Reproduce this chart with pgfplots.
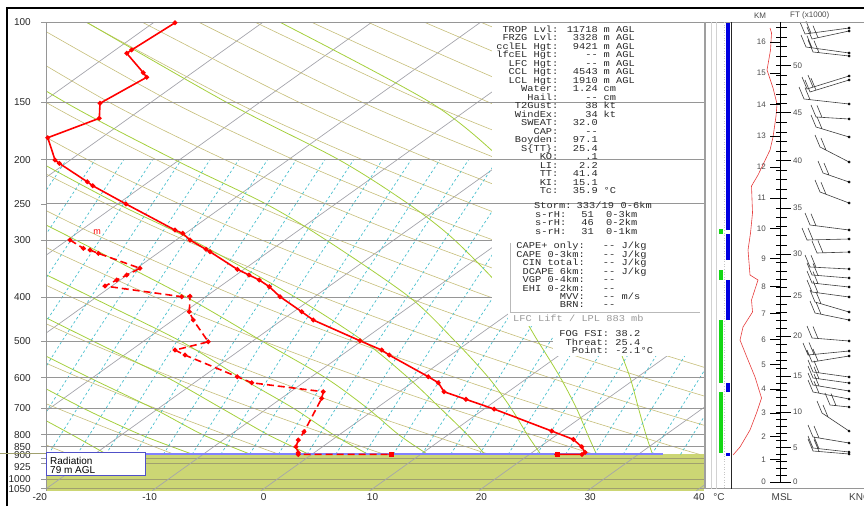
\documentclass[border=0pt]{standalone}
\usepackage{fontspec}
\setmainfont{Liberation Sans}
\setmonofont[FakeStretch=1.15]{Liberation Mono}
\usepackage{pgfplots}
\pgfplotsset{compat=1.18}
\definecolor{isoT}{RGB}{165,165,172}
\definecolor{isoP}{RGB}{150,150,150}
\definecolor{dryad}{RGB}{198,190,122}
\definecolor{moistad}{RGB}{165,208,60}
\definecolor{mixr}{RGB}{70,190,205}
\definecolor{groundc}{RGB}{204,214,116}
\definecolor{groundl}{RGB}{160,160,110}
\definecolor{txt}{RGB}{40,40,40}
\definecolor{barbc}{RGB}{60,60,60}
\definecolor{radb}{RGB}{80,80,200}
\newcommand\mt{\fontsize{9}{9}\selectfont\ttfamily}
\pgfplotsset{dry/.style={dryad, line width=0.6pt, smooth},
             moist/.style={moistad, line width=0.8pt, smooth},
             isot/.style={isoT, line width=0.7pt},
             isob/.style={isoP, line width=0.9pt}}
\begin{document}
\begin{tikzpicture}
\useasboundingbox (0,0) rectangle (864pt,506pt);
% ---------------- main skew-T axis ----------------
\begin{axis}[
  at={(46pt,15.3pt)}, anchor=south west,
  scale only axis, width=658pt, height=468.7pt,
  xmin=-20, xmax=40.46, ymode=log, ymin=100, ymax=1060, y dir=reverse,
  axis line style={draw=none},
  xtick={-20,-10,0,10,20,30,40},
  xticklabels={\makebox[0pt][r]{-20\hspace{-1pt}},\makebox[0pt][r]{-10\hspace{-2pt}},0,10,20,30,40},
  ytick={100,150,200,250,300,400,500,600,700,800,850,900,925,1000,1050},
  yticklabels={100,150,200,250,300,400,500,600,700,800,850,\raisebox{3pt}[7.2pt][0pt]{900},\raisebox{-3pt}[7.2pt][0pt]{925},1000,1050},
  yminorticks=false,
  ytick pos=left, xtick pos=bottom,
  tick align=outside, major tick length=5pt,
  major y tick style={draw=isoP, line width=0.8pt},
  major x tick style={draw=none},
  tick label style={font=\fontsize{10}{10}\selectfont, text=txt},
  /pgf/number format/assume math mode=true,
  yticklabel style={inner sep=1pt, xshift=-9pt},
  xticklabel style={yshift=5.7pt},
  unbounded coords=jump,
]
% ground
\addplot[fill=groundc, draw=none] coordinates {(-20,883) (40.46,883) (40.46,1060) (-20,1060)};
\addplot[groundl, line width=0.9pt] coordinates {(-20,900) (40.46,900) (nan,nan) (-20,925) (40.46,925) (nan,nan) (-20,1000) (40.46,1000) (nan,nan) (-20,1050) (40.46,1050)};
% isotherms
\addplot[isot] coordinates {(-70.24,1060) (-10.04,100) (nan,nan) (-60.24,1060) (-0.04,100) (nan,nan) (-50.24,1060) (9.96,100) (nan,nan) (-40.24,1060) (19.96,100) (nan,nan) (-30.24,1060) (29.96,100) (nan,nan) (-20.24,1060) (39.96,100) (nan,nan) (-10.24,1060) (49.96,100) (nan,nan) (-0.24,1060) (59.96,100) (nan,nan) (9.76,1060) (69.96,100) (nan,nan) (19.76,1060) (79.96,100) (nan,nan) (29.76,1060) (89.96,100) (nan,nan) (39.76,1060) (99.96,100)};
% dry adiabats
\addplot[dry] coordinates {(-27.47,883) (-29.10,850) (-37.03,700)};
\addplot[dry] coordinates {(-17.81,883) (-19.56,850) (-28.00,700)};
\addplot[dry] coordinates {(-8.16,883) (-10.01,850) (-18.97,700) (-25.55,600)};
\addplot[dry] coordinates {(1.49,883) (-0.47,850) (-9.94,700) (-16.90,600) (-24.54,500)};
\addplot[dry] coordinates {(11.14,883) (9.08,850) (-0.91,700) (-8.26,600) (-16.33,500) (-25.33,400)};
\addplot[dry] coordinates {(20.79,883) (18.63,850) (8.13,700) (0.38,600) (-8.13,500) (-17.64,400) (-28.52,300)};
\addplot[dry] coordinates {(30.44,883) (28.17,850) (17.16,700) (9.03,600) (0.07,500) (-9.94,400) (-21.43,300) (-27.93,250)};
\addplot[dry] coordinates {(40.09,883) (37.72,850) (26.19,700) (17.67,600) (8.28,500) (-2.24,400) (-14.34,300) (-21.20,250) (-28.82,200)};
\addplot[dry] coordinates {(49.74,883) (47.27,850) (35.22,700) (26.31,600) (16.48,500) (5.45,400) (-7.25,300) (-14.47,250) (-22.51,200) (-31.60,150)};
\addplot[dry] coordinates {(44.25,700) (34.95,600) (24.68,500) (13.15,400) (-0.16,300) (-7.74,250) (-16.19,200) (-25.79,150)};
\addplot[dry] coordinates {(43.60,600) (32.89,500) (20.85,400) (6.93,300) (-1.01,250) (-9.88,200) (-19.97,150) (-31.90,100)};
\addplot[dry] coordinates {(52.24,600) (41.09,500) (28.54,400) (14.02,300) (5.72,250) (-3.57,200) (-14.16,150) (-26.72,100)};
\addplot[dry] coordinates {(49.30,500) (36.24,400) (21.11,300) (12.45,250) (2.75,200) (-8.34,150) (-21.54,100)};
\addplot[dry] coordinates {(57.50,500) (43.94,400) (28.20,300) (19.18,250) (9.06,200) (-2.53,150) (-16.36,100)};
\addplot[dry] coordinates {(51.63,400) (35.29,300) (25.91,250) (15.38,200) (3.29,150) (-11.18,100)};
\addplot[dry] coordinates {(59.33,400) (42.38,300) (32.64,250) (21.69,200) (9.11,150) (-6.00,100)};
\addplot[dry] coordinates {(49.47,300) (39.37,250) (28.01,200) (14.93,150) (-0.82,100)};
\addplot[dry] coordinates {(46.10,250) (34.32,200) (20.74,150) (4.36,100)};
\addplot[dry] coordinates {(52.82,250) (40.63,200) (26.56,150) (9.54,100)};
\addplot[dry] coordinates {(46.95,200) (32.37,150) (14.72,100)};
\addplot[dry] coordinates {(53.26,200) (38.19,150) (19.90,100)};
\addplot[dry] coordinates {(44.00,150) (25.08,100)};
% moist adiabats
\addplot[moist] coordinates {(-14.4,883) (-17.6,800) (-22.1,700)};
\addplot[moist] coordinates {(-6.49,883) (-11.27,800) (-16.56,700) (-21.9,600)};
\addplot[moist] coordinates {(-1.17,883) (-5.57,800) (-10.16,700) (-16.0,600) (-22.7,500)};
\addplot[moist] coordinates {(4.20,883) (0.43,800) (-3.86,700) (-8.83,600) (-15.6,500) (-23.8,400)};
\addplot[moist] coordinates {(9.61,883) (6.43,800) (2.74,700) (-2.13,600) (-7.58,500) (-15.8,400) (-26.4,300)};
\addplot[moist] coordinates {(15.08,883) (12.43,800) (9.54,700) (5.67,600) (-0.08,500) (-7.09,400) (-17.25,300) (-23.8,250) (-31.1,200)};
\addplot[moist] coordinates {(20.32,883) (18.73,800) (16.24,700) (13.27,600) (9.22,500) (2.91,400) (-6.55,300) (-13.4,250) (-21.0,200) (-30.2,150)};
\addplot[moist] coordinates {(25.47,883) (24.23,800) (22.74,700) (20.67,600) (17.62,500) (13.41,400) (5.75,300) (0.20,250) (-8.2,200) (-18.2,150) (-30.3,100)};
\addplot[moist] coordinates {(30.59,883) (29.78,800) (28.74,700) (27.27,600) (25.22,500) (22.61,400) (17.55,300) (13.30,250) (6.89,200) (-3.38,150) (-16.3,100)};
\addplot[moist] coordinates {(35.73,883) (35.13,800) (34.44,700) (33.67,600) (32.42,500) (30.86,400) (28.15,300) (25.70,250) (21.89,200) (15.32,150) (1.46,100)};
% mixing ratio lines
\addplot[mixr, line width=0.7pt, dash pattern=on 2.5pt off 2.5pt] coordinates {
(-35.62,883) (-29.12,500) (-18.12,200) (nan,nan)
(-32.98,883) (-26.48,500) (-15.48,200) (nan,nan)
(-30.34,883) (-23.84,500) (-12.84,200) (nan,nan)
(-27.70,883) (-21.20,500) (-10.20,200) (nan,nan)
(-25.06,883) (-18.56,500) (-7.56,200) (nan,nan)
(-22.42,883) (-15.92,500) (-4.92,200) (nan,nan)
(-19.78,883) (-13.28,500) (-2.28,200) (nan,nan)
(-17.14,883) (-10.64,500) (0.36,200) (nan,nan)
(-14.50,883) (-8.00,500) (3.00,200) (nan,nan)
(-11.86,883) (-5.36,500) (5.64,200) (nan,nan)
(-9.22,883) (-2.72,500) (8.28,200) (nan,nan)
(-6.58,883) (-0.08,500) (10.92,200) (nan,nan)
(-3.94,883) (2.56,500) (13.56,200) (nan,nan)
(-1.30,883) (5.20,500) (16.20,200) (nan,nan)
(1.34,883) (7.84,500) (18.84,200) (nan,nan)
(3.98,883) (10.48,500) (21.48,200) (nan,nan)
(6.62,883) (13.12,500) (24.12,200) (nan,nan)
(9.26,883) (15.76,500) (26.76,200) (nan,nan)
(11.90,883) (18.40,500) (29.40,200) (nan,nan)
(14.54,883) (21.04,500) (32.04,200) (nan,nan)
(17.18,883) (23.68,500) (34.68,200) (nan,nan)
(19.82,883) (26.32,500) (37.32,200) (nan,nan)
(22.46,883) (28.96,500) (39.96,200) (nan,nan)
(25.10,883) (31.60,500) (42.60,200) (nan,nan)
(27.74,883) (34.24,500) (45.24,200) (nan,nan)
(30.38,883) (36.88,500) (47.88,200) (nan,nan)
(33.02,883) (39.52,500) (50.52,200) (nan,nan)
(35.66,883) (42.16,500) (53.16,200) (nan,nan)
(38.30,883) (44.80,500) (55.80,200)};
% white panels behind the text
\addplot[fill=white, draw=none] coordinates {(20.98,100) (40.46,100) (40.46,433.2) (20.98,433.2)};
\addplot[fill=white, draw=none] coordinates {(22.45,433.2) (40.46,433.2) (40.46,462.5) (22.45,462.5)};
\addplot[fill=white, draw=none] coordinates {(26.59,462.5) (40.46,462.5) (40.46,537.9) (26.59,537.9)};
% isobars
\addplot[isob] coordinates {(-20,100) (40.46,100) (nan,nan) (-20,150) (40.46,150) (nan,nan) (-20,200) (40.46,200) (nan,nan) (-20,250) (40.46,250) (nan,nan) (-20,300) (20.98,300) (nan,nan) (-20,400) (20.98,400) (nan,nan) (-20,500) (26.59,500) (nan,nan) (-20,600) (40.46,600) (nan,nan) (-20,700) (40.46,700) (nan,nan) (-20,800) (40.46,800) (nan,nan) (-20,850) (40.46,850)};
\addplot[isob] coordinates {(-20,100) (-20,1060)};
% top of ground
\addplot[color={rgb,255:red,130;green,130;blue,255}, line width=1.6pt] coordinates {(-20,880) (36.7,880)};
% temperature
\addplot[red, line width=1.6pt, mark=*, mark size=1.5pt] coordinates {
(-8.15,100.4) (-12.13,115.1) (-12.58,117.1) (-11.06,129.1) (-10.75,132.1) (-15.04,150.6) (-15.10,162.4) (-19.84,179.1) (-19.17,200.4) (-18.78,203.8) (-16.21,223.6) (-15.71,228.1) (-12.65,250.1) (-8.15,285.2) (-7.44,289.9) (-6.77,299.9) (-5.30,314.3) (-4.93,318.1) (-2.42,347.6) (-1.35,357.7) (-0.40,366.8) (0.52,379.4) (1.50,399.0) (3.50,430.4) (4.56,448.7) (8.85,498.1) (10.85,522.0) (11.54,535.3) (15.13,597.1) (16.05,615.4) (16.57,643.9) (18.59,669.1) (21.17,702.6) (26.47,785.0) (28.45,818.5) (29.22,849.6) (29.53,874.0) (29.25,883) (26.93,883)};
\addplot[red, only marks, mark=square*, mark size=2pt] coordinates {(26.93,883)};
% dew point
\addplot[red, line width=1.6pt, dash pattern=on 7pt off 4pt, mark=*, mark size=1.5pt, mark options={solid}] coordinates {
(-17.79,299.9) (-16.57,312.7) (-15.96,315.4) (-15.19,320.7) (-11.36,345.8) (-12.58,357.7) (-13.50,366.8) (-14.58,378.1) (-7.53,399.0) (-6.77,398.0) (-6.83,430.4) (-6.47,448.7) (-5.09,500.6) (-8.15,522.0) (-7.23,535.3) (-2.42,597.1) (-1.10,615.4) (5.48,643.9) (5.33,665.8) (3.71,787.8) (3.18,821.4) (2.97,849.6) (3.18,875.7) (3.18,883) (11.70,883)};
\addplot[red, only marks, mark=square*, mark size=2pt] coordinates {(11.70,883)};
\node[red, font=\fontsize{9}{9}\selectfont] at (axis cs:-15.31,288.3) {m};
\end{axis}
% ---------------- right panel data (pixel coordinates) ----------------
\begin{axis}[
  at={(0pt,0pt)}, anchor=south west, scale only axis, width=864pt, height=506pt,
  xmin=0, xmax=864, ymin=0, ymax=506, y dir=reverse, hide axis, clip=false,
  unbounded coords=jump]
\addplot[fill={rgb,255:red,0;green,0;blue,225}, draw=none] coordinates {(725.7,22) (730,22) (730,230) (725.7,230)};
\addplot[fill={rgb,255:red,0;green,0;blue,225}, draw=none] coordinates {(725.7,234) (730,234) (730,260) (725.7,260)};
\addplot[fill={rgb,255:red,0;green,0;blue,225}, draw=none] coordinates {(725.7,280) (730,280) (730,320) (725.7,320)};
\addplot[fill={rgb,255:red,0;green,0;blue,225}, draw=none] coordinates {(725.7,383) (730,383) (730,392) (725.7,392)};
\addplot[fill={rgb,255:red,0;green,0;blue,225}, draw=none] coordinates {(725.7,453) (730,453) (730,455.5) (725.7,455.5)};
\addplot[fill={rgb,255:red,20;green,215;blue,20}, draw=none] coordinates {(719.3,229) (723.3,229) (723.3,233.5) (719.3,233.5)};
\addplot[fill={rgb,255:red,20;green,215;blue,20}, draw=none] coordinates {(719.3,270) (723.3,270) (723.3,280) (719.3,280)};
\addplot[fill={rgb,255:red,20;green,215;blue,20}, draw=none] coordinates {(719.3,320) (723.3,320) (723.3,383) (719.3,383)};
\addplot[fill={rgb,255:red,20;green,215;blue,20}, draw=none] coordinates {(719.3,392) (723.3,392) (723.3,452.7) (719.3,452.7)};
% red height curve
\addplot[color={rgb,255:red,230;green,60;blue,60}, line width=0.6pt] coordinates {(770,28) (771.5,33) (770.5,50) (767,70) (773,88) (777,104) (776,116) (773,137) (770,150) (758,175) (751.5,186) (752.5,213) (750.5,233) (748,250) (750,275) (758,280) (751.5,300) (752.5,312) (743,327) (740,340) (748,360) (755,377) (761.5,398) (756.5,413) (750,430) (740,447) (733,455)};
% wind barbs
\addplot[barbc, line width=0.6pt] coordinates {
(849,28) (805,34) (800,22) (nan,nan) (811,33.2) (806,21.2) (nan,nan)
(849,31) (812,39) (807,27) (nan,nan) (818,37.7) (813,25.7) (nan,nan)
(849,53) (806,47) (801,35) (nan,nan) (812,47.8) (807,35.8) (nan,nan)
(849,56) (813,52) (808,40) (nan,nan) (819,52.7) (814,40.7) (nan,nan)
(849,76) (807,89) (802,77) (nan,nan) (813,87.1) (808,75.1) (nan,nan)
(849,80) (810,92) (805,80) (nan,nan) (816,90.2) (811,78.2) (nan,nan)
(849,104) (804,99) (799,87) (nan,nan) (810,99.7) (805,87.7) (nan,nan)
(849,119) (816,117) (811,105) (nan,nan) (822,117.4) (817,105.4) (nan,nan)
(849,137) (816,127) (811,115) (nan,nan) (822,128.8) (817,116.8) (nan,nan)
(849,162) (820,147) (815,135) (nan,nan) (826,150.1) (821,138.1) (nan,nan)
(849,182) (823,173) (818,161) (nan,nan) (829,175.1) (824,163.1) (nan,nan)
(849,203) (820,192) (815,180) (nan,nan) (826,194.3) (821,182.3) (nan,nan)
(849,230) (810,225) (805,213) (nan,nan) (816,225.8) (811,213.8) (nan,nan)
(849,239) (807,240) (802,228) (nan,nan) (813,239.9) (808,227.9) (nan,nan)
(849,252) (817,253) (812,241) (nan,nan) (823,252.8) (818,240.8) (nan,nan)
(849,269) (810,267) (805,255) (nan,nan) (816,267.3) (811,255.3) (nan,nan)
(849,278) (812,275) (807,263) (nan,nan) (818,275.5) (813,263.5) (nan,nan)
(849,287) (812,283) (807,271) (nan,nan) (818,283.6) (813,271.6) (nan,nan)
(849,297) (812,292) (807,280) (nan,nan) (818,292.8) (813,280.8) (nan,nan)
(849,312) (815,302) (810,290) (nan,nan) (821,303.8) (816,291.8) (nan,nan)
(849,320) (815,313) (810,301) (nan,nan) (821,314.2) (816,302.2) (nan,nan)
(849,341) (812,338) (807,326) (nan,nan) (818,338.5) (813,326.5) (nan,nan)
(849,351) (808,355) (803,343) (nan,nan) (814,354.4) (809,342.4) (nan,nan)
(849,356) (812,362) (807,350) (nan,nan) (818,361) (813,349) (nan,nan)
(849,377) (813,372) (808,360) (nan,nan) (819,372.8) (814,360.8) (nan,nan)
(849,383) (813,378) (808,366) (nan,nan) (819,378.8) (814,366.8) (nan,nan)
(849,391) (813,385) (808,373) (nan,nan) (819,386) (814,374) (nan,nan)
(849,399) (813,392) (808,380) (nan,nan) (819,393.2) (814,381.2) (nan,nan)
(849,407) (830,405) (825,393) (nan,nan) (836,405.6) (831,393.6) (nan,nan)
(849,431) (822,413) (817,401) (nan,nan) (828,417) (823,405) (nan,nan)
(849,443) (813,437) (808,425) (nan,nan) (819,438) (814,426) (nan,nan)
(849,452) (813,448) (808,436) (nan,nan) (819,448.7) (814,436.7) (nan,nan)
(849,454) (813,451) (808,439) (nan,nan) (819,451.5) (814,439.5)};
\addplot[black, only marks, mark=*, mark size=1.2pt] coordinates {(849,28) (849,31) (849,53) (849,56) (849,76) (849,80) (849,104) (849,119) (849,137) (849,162) (849,182) (849,203) (849,230) (849,239) (849,252) (849,269) (849,278) (849,287) (849,297) (849,312) (849,320) (849,341) (849,351) (849,356) (849,377) (849,383) (849,391) (849,399) (849,407) (849,431) (849,443) (849,452) (849,454)};
\end{axis}
% ---------------- decorations and texts (pixel coordinates) ----------------
\begin{scope}[x=1pt, y=-1pt, shift={(0pt,506pt)}]
\draw[black, line width=1.5pt] (7,506) -- (7,8) -- (864,8);
\draw[groundl, line width=0.8pt] (0,453.5) -- (46,453.5);
% right panel frame
\draw[isoP, line width=0.8pt] (700,22) -- (864,22);
\draw[isoP, line width=0.8pt] (700,488.5) -- (864,488.5);
\draw[gray!75, line width=1.5pt] (705,22) -- (705,488.5);
\draw[gray!35, line width=0.6pt] (711,22) -- (711,488.5);
\draw[gray!35, line width=0.6pt] (716,22) -- (716,488.5);
\draw[gray!45, line width=0.6pt, dotted] (724.3,22) -- (724.3,488.5);
\draw[black!85, line width=0.8pt] (731,22) -- (731,488.5);
% KM / FT axis
\draw[black, line width=0.8pt] (780.7,22.5) -- (780.7,482);
\foreach \y in {475.1,468.3,461.4,454.6,440.6,433.4,426.3,419.1,404.8,397.6,390.4,383.2,368,360,352,344,328,320,312,304,287.6,279.2,270.8,262.4,244.8,235.6,226.4,217.2,198.5,189.1,179.6,170.2,151.1,141.5,131.9,122.3,103.3,93.9,84.5,75.1,56.1,46.5,36.9,27.3}
  \draw[black, line width=0.5pt] (776,\y) -- (787,\y);
\foreach \k/\y in {0/482,1/459.5,2/436.5,3/413,4/389,5/364.5,6/339.5,7/313.5,8/286.5,9/258.5,10/228.5,11/198,12/167,13/136,14/104.5,15/73,16/42}
  {\draw[black, line width=0.7pt] (770,\y) -- (781,\y);
   \node[anchor=east, inner sep=0pt, font=\fontsize{8}{8}\selectfont, text=black!70] at (766,\y) {\k};}
\foreach \f/\y in {0/482,5/447.7,10/412,15/376,20/336,25/296,30/254,35/208,40/160.7,45/112.7,50/65.7}
  {\draw[black, line width=0.7pt] (776,\y) -- (791,\y);
   \node[anchor=west, inner sep=0pt, font=\fontsize{8}{8}\selectfont, text=black!70] at (793,\y) {\f};}
\node[font=\fontsize{8}{8}\selectfont, text=black!70] at (760,15.7) {KM};
\node[anchor=west, inner sep=0pt, font=\fontsize{8}{8}\selectfont, text=black!70] at (790,15.7) {FT (x1000)};
\node[font=\fontsize{10}{10}\selectfont, text=black!75] at (719,497) {°C};
\node[font=\fontsize{10}{10}\selectfont, text=black!75] at (782,497) {MSL};
\node[anchor=west, inner sep=0pt, font=\fontsize{10}{10}\selectfont, text=black!75] at (849,497) {KNOTS};
% Radiation box
\draw[fill=white, draw=radb, line width=0.8pt] (46,452.7) rectangle (145.7,475);
\node[anchor=base west, inner sep=0pt, font=\fontsize{10}{10}\selectfont] at (50,464.5) {Radiation};
\node[anchor=base west, inner sep=0pt, font=\fontsize{10}{10}\selectfont] at (50,473.5) {79 m AGL};
% CAPE frame
\draw[gray!55, line width=0.7pt] (510,243) -- (510,312) -- (700,312);
\begin{scope}[every node/.style={inner sep=0pt, font=\mt, text=txt}]
\newcommand\tl[4]{\node[anchor=base east] at (558.6,#1) {#2}; \node[anchor=base east] at (598,#1) {#3}; \node[anchor=base west] at (603.5,#1) {#4};}
\tl{32.3}{TROP Lvl:}{11718}{m AGL}
\tl{40.79}{FRZG Lvl:}{3328}{m AGL}
\tl{49.28}{cclEL Hgt:}{9421}{m AGL}
\tl{57.77}{lfcEL Hgt:}{-{}-}{m AGL}
\tl{66.26}{LFC Hgt:}{-{}-}{m AGL}
\tl{74.75}{CCL Hgt:}{4543}{m AGL}
\tl{83.24}{LCL Hgt:}{1910}{m AGL}
\tl{91.73}{Water:}{1.24}{cm}
\tl{100.22}{Hail:}{-{}-}{cm}
\tl{108.71}{T2Gust:}{38}{kt}
\tl{117.2}{WindEx:}{34}{kt}
\tl{125.69}{SWEAT:}{32.0}{}
\tl{134.18}{CAP:}{-{}-}{}
\tl{142.67}{Boyden:}{97.1}{}
\tl{151.16}{S\{TT\}:}{25.4}{}
\tl{159.65}{KO:}{.1}{}
\tl{168.14}{LI:}{2.2}{}
\tl{176.63}{TT:}{41.4}{}
\tl{185.12}{KI:}{15.1}{}
\tl{193.61}{Tc:}{35.9}{°C}
\node[anchor=base west] at (534,209) {Storm:};
\node[anchor=base west] at (576.5,209) {333/19};
\node[anchor=base west] at (620.5,209) {0-6km};
\node[anchor=base west] at (535,217.4) {s-rH:};
\node[anchor=base east] at (594,217.4) {51};
\node[anchor=base west] at (606,217.4) {0-3km};
\node[anchor=base west] at (535,225.8) {s-rH:};
\node[anchor=base east] at (594,225.8) {46};
\node[anchor=base west] at (606,225.8) {0-2km};
\node[anchor=base west] at (535,234.2) {s-rH:};
\node[anchor=base east] at (594,234.2) {31};
\node[anchor=base west] at (606,234.2) {0-1km};
\newcommand\cl[4]{\node[anchor=base east] at (585,#1) {#2}; \node[anchor=base east] at (615.5,#1) {#3}; \node[anchor=base west] at (621.5,#1) {#4};}
\cl{249}{CAPE+ only:}{-{}-}{J/kg}
\cl{257.43}{CAPE 0-3km:}{-{}-}{J/kg}
\cl{265.86}{CIN total:}{-{}-}{J/kg}
\cl{274.29}{DCAPE 6km:}{-{}-}{J/kg}
\cl{282.72}{VGP 0-4km:}{-{}-}{}
\cl{291.15}{EHI 0-2km:}{-{}-}{}
\cl{299.58}{MVV:}{-{}-}{m/s}
\cl{308}{BRN:}{-{}-}{}
\node[anchor=base west, text=black!40] at (513,322) {LFC Lift / LPL 883 mb};
\newcommand\fl[4]{\node[anchor=base east] at (609.3,#1) {#2}; \node[anchor=base east] at (640.5,#1) {#3}; \node[anchor=base west] at (640.5,#1) {#4};}
\fl{336.3}{FOG FSI:}{38.2}{}
\fl{345.3}{Threat:}{25.4}{}
\fl{353.7}{Point:}{-2.1}{°C}
\end{scope}
\end{scope}
\end{tikzpicture}
\end{document}
